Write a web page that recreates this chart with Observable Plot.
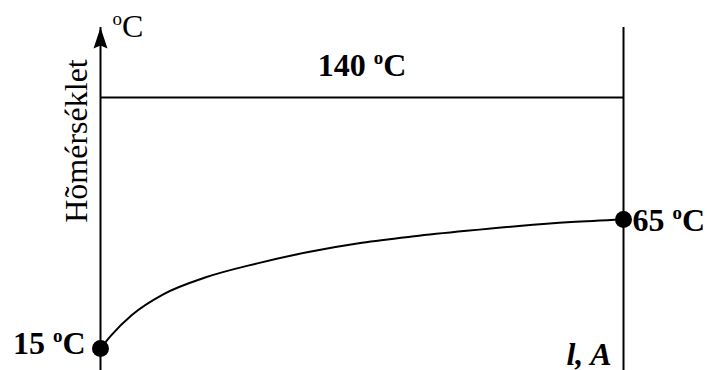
<!DOCTYPE html>
<html>
<head>
<meta charset="utf-8">
<script src="https://cdn.jsdelivr.net/npm/d3@7"></script>
<script src="https://cdn.jsdelivr.net/npm/@observablehq/plot@0.6"></script>
<style>
  html, body { margin: 0; padding: 0; background: #fff; }
  svg { display: block; }
</style>
</head>
<body>
<div id="chart"></div>
<script>
// Schematic: temperature along the length (l, A)
const lengthPos = [0, 0.02, 0.06, 0.12, 0.2, 0.3, 0.4, 0.5, 0.6, 0.7, 0.8, 0.9, 1];
const tempC     = [15, 20, 28, 36, 42.5, 48, 52.5, 56, 58.5, 60.6, 62.5, 64, 65];
const endPoints = [0, 1];
const endTemps  = [15, 65];
const endLabels = ["15 °C", "65 °C"];
const hotTemp = 140;
const hotLabel = "140 °C";
const yTitle = "Hõmérséklet";
const yUnit = "°C";
const xTitle = "l, A";

const curve = lengthPos.map((x, i) => ({x, t: tempC[i]}));
const ends = endPoints.map((x, i) => ({x, t: endTemps[i], label: endLabels[i]}));

const arrowHead = {
  draw(ctx) {
    ctx.moveTo(0, 0);
    ctx.lineTo(7, 21);
    ctx.lineTo(0, 18);
    ctx.lineTo(-7, 21);
    ctx.closePath();
  }
};

const serif = "'Liberation Serif', 'Times New Roman', serif";

const svg = Plot.plot({
  width: 707,
  height: 370,
  marginLeft: 100,
  marginRight: 84,
  marginTop: 27,
  marginBottom: 0,
  style: {background: "#fff", fontFamily: serif},
  x: {type: "linear", domain: [0, 1], axis: null},
  // schematic (not to scale) temperature axis: piecewise linear
  y: {type: "linear", domain: [15, 65, hotTemp], range: [348, 219, 97], axis: null},
  marks: [
    Plot.ruleX([endPoints[0]], {stroke: "#000", strokeWidth: 2}),
    Plot.ruleX([endPoints[1]], {stroke: "#000", strokeWidth: 2}),
    Plot.ruleY([hotTemp], {stroke: "#000", strokeWidth: 2}),
    Plot.dot([endPoints[0]], {x: d => d, frameAnchor: "top", symbol: arrowHead, fill: "#000", stroke: "none"}),
    Plot.line(curve, {x: "x", y: "t", curve: "monotone-x", stroke: "#000", strokeWidth: 2}),
    Plot.dot(ends, {x: "x", y: "t", r: 8.5, fill: "#000", stroke: "none"}),
    Plot.text([ends[0]], {x: "x", y: "t", text: "label", textAnchor: "end", lineAnchor: "bottom", dx: -15, dy: 5, fontSize: 32, fontWeight: "bold", fill: "#000", fontFamily: serif}),
    Plot.text([ends[1]], {x: "x", y: "t", text: "label", textAnchor: "start", lineAnchor: "bottom", dx: 9, dy: 11, fontSize: 32, fontWeight: "bold", fill: "#000", fontFamily: serif}),
    Plot.text([hotLabel], {x: 0.5, y: hotTemp, text: d => d, textAnchor: "middle", lineAnchor: "bottom", dy: -22, fontSize: 32, fontWeight: "bold", fill: "#000", fontFamily: serif}),
    Plot.text([yUnit], {x: endPoints[0], frameAnchor: "top", text: d => d, textAnchor: "start", lineAnchor: "bottom", dx: 12, dy: 9, fontSize: 32, fill: "#000", fontFamily: serif}),
    Plot.text([yTitle], {frameAnchor: "left", text: d => d, rotate: -90, textAnchor: "middle", lineAnchor: "bottom", dx: -14, dy: -58, fontSize: 32, fill: "#000", fontFamily: serif}),
    Plot.text([xTitle], {x: endPoints[1], frameAnchor: "bottom", text: d => d, textAnchor: "end", lineAnchor: "bottom", dx: -12, dy: -6, fontSize: 32, fontWeight: "bold", fontStyle: "italic", fill: "#000", fontFamily: serif})
  ]
});

// render "°" as a superscript letter o, as in the original figure
const NS = "http://www.w3.org/2000/svg";
svg.querySelectorAll("text").forEach(t => {
  const s = t.textContent;
  if (!s.includes("°")) return;
  const [a, b] = s.split("°");
  t.textContent = "";
  if (a) t.appendChild(document.createTextNode(a));
  const sup = document.createElementNS(NS, "tspan");
  sup.setAttribute("font-size", "19");
  sup.setAttribute("dy", "-12");
  sup.textContent = "o";
  t.appendChild(sup);
  const rest = document.createElementNS(NS, "tspan");
  rest.setAttribute("dy", "12");
  rest.textContent = b;
  t.appendChild(rest);
});

document.getElementById("chart").appendChild(svg);
</script>
</body>
</html>
